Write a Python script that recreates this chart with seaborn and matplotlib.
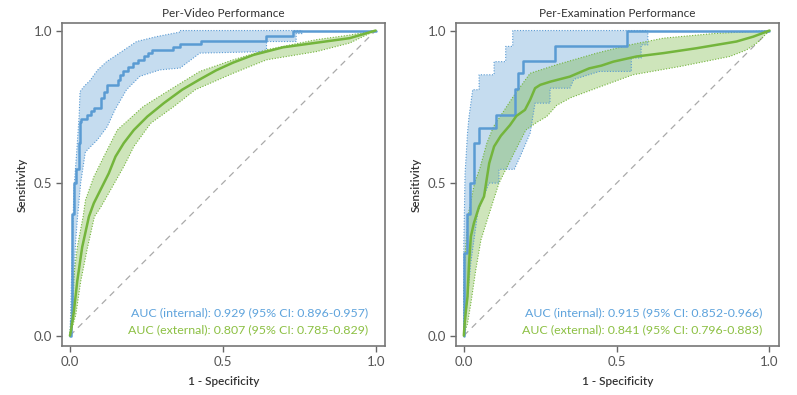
import numpy as np
import matplotlib
matplotlib.use("Agg")
import matplotlib.pyplot as plt
import seaborn as sns

# ---- data ----
# Per-Video: internal (step ROC), jumps as (fpr, tpr after jump)
video_int_fpr = [0, 0.002, 0.008, 0.013, 0.019, 0.03, 0.033, 0.036, 0.055, 0.07, 0.078, 0.10, 0.112,
                 0.12, 0.158, 0.165, 0.172, 0.19, 0.207, 0.223, 0.242, 0.256, 0.267, 0.338, 0.36,
                 0.43, 0.643, 0.73, 1.0]
video_int_tpr = [0, 0.05, 0.40, 0.50, 0.545, 0.63, 0.70, 0.71, 0.722, 0.735, 0.746, 0.78, 0.80,
                 0.82, 0.838, 0.853, 0.868, 0.882, 0.893, 0.905, 0.915, 0.925, 0.935, 0.945, 0.955,
                 0.967, 0.982, 1.0, 1.0]
video_int_hi_fpr = [0, 0.003, 0.008, 0.013, 0.022, 0.03, 0.033, 0.049, 0.065, 0.09, 0.12, 0.153,
                    0.218, 0.283, 0.36, 0.36, 0.76]
video_int_hi_tpr = [0, 0.10, 0.30, 0.48, 0.60, 0.72, 0.80, 0.82, 0.835, 0.87, 0.898, 0.92,
                    0.964, 0.98, 0.995, 1.0, 1.0]
video_int_lo_fpr = [0, 0.01, 0.018, 0.024, 0.035, 0.05, 0.057, 0.09, 0.122, 0.147, 0.185, 0.229,
                    0.294, 0.36, 0.425, 0.643, 0.643, 0.74, 0.74, 0.76, 0.76]
video_int_lo_tpr = [0, 0.10, 0.30, 0.38, 0.50, 0.60, 0.609, 0.642, 0.685, 0.74, 0.806, 0.85,
                    0.871, 0.877, 0.926, 0.931, 0.964, 0.964, 0.99, 0.99, 1.0]

# Per-Video: external
video_ext_fpr = [0, 0.004, 0.013, 0.024, 0.04, 0.062, 0.078, 0.10, 0.127, 0.149, 0.176, 0.209,
                 0.253, 0.307, 0.367, 0.425, 0.479, 0.534, 0.60, 0.697, 0.806, 0.915, 1.0]
video_ext_tpr = [0, 0.02, 0.08, 0.18, 0.29, 0.39, 0.434, 0.478, 0.532, 0.587, 0.631, 0.674,
                 0.718, 0.762, 0.806, 0.84, 0.87, 0.895, 0.92, 0.945, 0.96, 0.975, 1.0]
video_ext_hi_fpr = [0, 0.004, 0.011, 0.024, 0.043, 0.051, 0.078, 0.111, 0.155, 0.24, 0.334, 0.425,
                    0.534, 0.643, 0.806, 0.915, 1.0]
video_ext_hi_tpr = [0, 0.07, 0.18, 0.29, 0.39, 0.445, 0.52, 0.587, 0.674, 0.751, 0.81, 0.866,
                    0.904, 0.937, 0.97, 0.985, 1.0]
video_ext_lo_fpr = [0, 0.019, 0.035, 0.057, 0.08, 0.10, 0.133, 0.176, 0.209, 0.264, 0.34, 0.41,
                    0.534, 0.643, 0.806, 0.915, 1.0]
video_ext_lo_tpr = [0, 0.068, 0.177, 0.287, 0.39, 0.42, 0.478, 0.554, 0.62, 0.696, 0.751, 0.806,
                    0.86, 0.904, 0.931, 0.959, 1.0]

# Per-Examination: internal
exam_int_fpr = [0, 0.001, 0.012, 0.021, 0.032, 0.048, 0.105, 0.168, 0.178, 0.195, 0.298, 0.533, 1.0]
exam_int_tpr = [0, 0.27, 0.40, 0.50, 0.63, 0.68, 0.724, 0.81, 0.86, 0.90, 0.95, 1.0, 1.0]
exam_int_hi_fpr = [0, 0.0, 0.004, 0.012, 0.017, 0.029, 0.05, 0.05, 0.099, 0.099, 0.137, 0.137,
                   0.16, 0.16, 0.602]
exam_int_hi_tpr = [0, 0.30, 0.53, 0.664, 0.718, 0.806, 0.806, 0.855, 0.855, 0.898, 0.898, 0.948,
                   0.948, 1.0, 1.0]
exam_int_lo_fpr = [0, 0.012, 0.023, 0.045, 0.082, 0.115, 0.115, 0.165, 0.19, 0.217, 0.233, 0.282,
                   0.282, 0.347, 0.36, 0.444, 0.548, 0.548, 0.58, 0.58, 0.602, 0.602]
exam_int_lo_tpr = [0, 0.12, 0.24, 0.40, 0.50, 0.50, 0.545, 0.545, 0.60, 0.664, 0.762, 0.762,
                   0.811, 0.811, 0.84, 0.866, 0.866, 0.91, 0.91, 0.953, 0.953, 1.0]

# Per-Examination: external
exam_ext_fpr = [0, 0.002, 0.007, 0.012, 0.017, 0.023, 0.033, 0.05, 0.066, 0.083, 0.099, 0.121,
                0.151, 0.172, 0.20, 0.217, 0.233, 0.25, 0.285, 0.347, 0.41, 0.45, 0.489, 0.565,
                0.653, 0.761, 0.892, 0.947, 1.0]
exam_ext_tpr = [0, 0.03, 0.084, 0.128, 0.237, 0.325, 0.369, 0.423, 0.456, 0.565, 0.62, 0.655,
                0.69, 0.72, 0.74, 0.773, 0.811, 0.822, 0.833, 0.849, 0.876, 0.885, 0.898, 0.915,
                0.926, 0.942, 0.964, 0.98, 1.0]
exam_ext_hi_fpr = [0, 0.0, 0.005, 0.015, 0.035, 0.053, 0.075, 0.097, 0.162, 0.217, 0.304, 0.435,
                   0.543, 0.653, 0.816, 1.0]
exam_ext_hi_tpr = [0, 0.15, 0.28, 0.40, 0.50, 0.55, 0.63, 0.685, 0.784, 0.86, 0.888, 0.926,
                   0.953, 0.975, 0.99, 1.0]
exam_ext_lo_fpr = [0, 0.012, 0.023, 0.039, 0.056, 0.083, 0.115, 0.164, 0.203, 0.24, 0.271, 0.304,
                   0.35, 0.444, 0.553, 0.706, 0.771, 0.87, 0.924, 0.96, 1.0]
exam_ext_lo_tpr = [0, 0.04, 0.106, 0.215, 0.314, 0.40, 0.50, 0.598, 0.674, 0.70, 0.718, 0.755,
                   0.78, 0.815, 0.855, 0.882, 0.895, 0.915, 0.936, 0.96, 1.0]

titles = ["Per-Video Performance", "Per-Examination Performance"]
auc_int_labels = ["AUC (internal): 0.929 (95% CI: 0.896-0.957)",
                  "AUC (internal): 0.915 (95% CI: 0.852-0.966)"]
auc_ext_labels = ["AUC (external): 0.807 (95% CI: 0.785-0.829)",
                  "AUC (external): 0.841 (95% CI: 0.796-0.883)"]
ticks = [0.0, 0.5, 1.0]
tick_labels = ["0.0", "0.5", "1.0"]

BLUE = "#5a9bd3"
GREEN = "#74b53c"
BLUE_TXT = "#5ea3dc"
GREEN_TXT = "#8cc043"

sns.set_style("white")
plt.rcParams["font.family"] = ["Lato", "DejaVu Sans"]

fig = plt.figure(figsize=(7.97, 3.95), dpi=100)
ax1 = fig.add_axes([0.0778, 0.124, 0.405, 0.818])
ax2 = fig.add_axes([0.572, 0.124, 0.405, 0.818])

panels = [
    (ax1, (video_int_fpr, video_int_tpr, video_int_hi_fpr, video_int_hi_tpr, video_int_lo_fpr, video_int_lo_tpr),
     (video_ext_fpr, video_ext_tpr, video_ext_hi_fpr, video_ext_hi_tpr, video_ext_lo_fpr, video_ext_lo_tpr)),
    (ax2, (exam_int_fpr, exam_int_tpr, exam_int_hi_fpr, exam_int_hi_tpr, exam_int_lo_fpr, exam_int_lo_tpr),
     (exam_ext_fpr, exam_ext_tpr, exam_ext_hi_fpr, exam_ext_hi_tpr, exam_ext_lo_fpr, exam_ext_lo_tpr)),
]


def draw_band(ax, hx, hy, lx, ly, color):
    poly_x = list(hx) + list(lx)[::-1]
    poly_y = list(hy) + list(ly)[::-1]
    ax.fill(poly_x, poly_y, color=color, alpha=0.35, lw=0)
    ax.plot(hx, hy, color=color, lw=0.8, ls=(0, (1, 1.5)))
    ax.plot(lx, ly, color=color, lw=0.8, ls=(0, (1, 1.5)))


for i, (ax, intern, extern) in enumerate(panels):
    ax.plot([0, 1], [0, 1], color="#aaaaaa", lw=0.9, ls=(0, (5, 4)))

    draw_band(ax, intern[2], intern[3], intern[4], intern[5], BLUE)
    draw_band(ax, extern[2], extern[3], extern[4], extern[5], GREEN)

    sns.lineplot(x=intern[0], y=intern[1], ax=ax, color=BLUE, lw=1.8,
                 drawstyle="steps-post", estimator=None, sort=False)
    sns.lineplot(x=extern[0], y=extern[1], ax=ax, color=GREEN, lw=1.8,
                 estimator=None, sort=False)

    ax.set_xlim(-0.026, 1.03)
    ax.set_ylim(-0.034, 1.025)
    ax.set_xticks(ticks)
    ax.set_xticklabels(tick_labels)
    ax.set_yticks(ticks)
    ax.set_yticklabels(tick_labels)
    ax.tick_params(axis="both", which="both", direction="out", length=4, width=1,
                   color="#666666", labelcolor="#555555", labelsize=9.5,
                   bottom=True, left=True, top=False, right=False, pad=3)
    for sp in ax.spines.values():
        sp.set_color("#777777")
        sp.set_linewidth(1.2)

    ax.set_title(titles[i], fontsize=8.5, color="#333333", pad=4)
    ax.set_xlabel("1 - Specificity", fontsize=8.5, color="#333333", fontweight="semibold", labelpad=6)
    ax.set_ylabel("Sensitivity", fontsize=8.5, color="#333333", fontweight="semibold", labelpad=4)

    ax.text(0.977, 0.075, auc_int_labels[i], color=BLUE_TXT, fontsize=8.9, ha="right", va="center")
    ax.text(0.977, 0.018, auc_ext_labels[i], color=GREEN_TXT, fontsize=8.9, ha="right", va="center")

fig.savefig("out.png", dpi=100)
